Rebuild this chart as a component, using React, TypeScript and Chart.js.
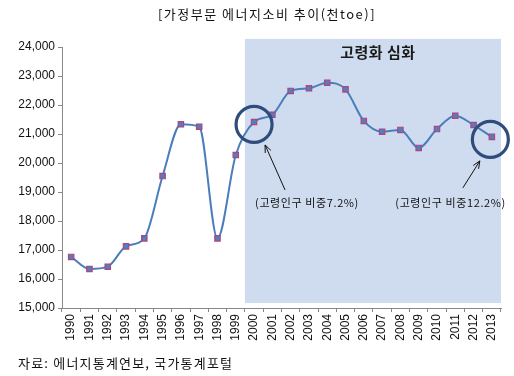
import React, { useEffect, useRef } from "react";
import { Chart, registerables } from "chart.js";

Chart.register(...registerables);

const years = ["1990","1991","1992","1993","1994","1995","1996","1997","1998","1999","2000","2001","2002","2003","2004","2005","2006","2007","2008","2009","2010","2011","2012","2013"];
const consumption = [16760,16345,16425,17125,17400,19550,21335,21250,17400,20275,21415,21665,22485,22575,22770,22540,21450,21080,21140,20520,21170,21630,21310,20900];
const yTicks = [15000,16000,17000,18000,19000,20000,21000,22000,23000,24000];
const titleText = "[가정부문 에너지소비 추이(천toe)]";
const sourceText = "자료: 에너지통계연보, 국가통계포털";
const shadeLabel = "고령화 심화";
const shadeStartYear = "2000";
const shadeTop = 24280;
const shadeBottom = 15170;
const notes = [
  { year: "2000", text: "(고령인구 비중7.2%)" },
  { year: "2013", text: "(고령인구 비중12.2%)" },
];

const FONT = "'Liberation Sans', 'Noto Sans CJK KR', sans-serif";
const KFONT = "'Noto Sans CJK KR', sans-serif";

const overlayPlugin = {
  id: "overlay",
  beforeDatasetsDraw(chart: any) {
    const { ctx, chartArea } = chart;
    const x = chart.scales.x;
    const y = chart.scales.y;
    const i = years.indexOf(shadeStartYear);
    const left = (x.getPixelForValue(i - 1) + x.getPixelForValue(i)) / 2;
    const right = chartArea.right;
    const top = y.getPixelForValue(shadeTop);
    const bottom = y.getPixelForValue(shadeBottom);
    ctx.save();
    ctx.fillStyle = "#cfdcef";
    ctx.fillRect(left, top, right - left, bottom - top);
    ctx.fillStyle = "#1a1a1a";
    ctx.font = "bold 15px " + KFONT;
    ctx.textAlign = "center";
    ctx.textBaseline = "middle";
    (ctx as any).letterSpacing = "0.5px";
    ctx.fillText(shadeLabel, (left + right) / 2 + 5, top + 13);
    ctx.restore();
  },
  afterDatasetsDraw(chart: any) {
    const { ctx } = chart;
    const meta = chart.getDatasetMeta(0);
    ctx.save();
    notes.forEach((n, k) => {
      const idx = years.indexOf(n.year);
      const pt = meta.data[idx];
      const cx = pt.x + (k === 0 ? 0 : -1.5);
      const cy = pt.y + 2.5;
      ctx.strokeStyle = "#2f4d7c";
      ctx.lineWidth = 3.2;
      ctx.beginPath();
      ctx.arc(cx, cy, 18, 0, Math.PI * 2);
      ctx.stroke();
      let tx, ty, sx, sy;
      if (k === 0) {
        tx = pt.x + 11; ty = pt.y + 23; sx = pt.x + 31; sy = pt.y + 68;
      } else {
        tx = pt.x - 12; ty = pt.y + 24; sx = pt.x - 29; sy = pt.y + 51;
      }
      ctx.strokeStyle = "#111";
      ctx.lineWidth = 1;
      ctx.beginPath();
      ctx.moveTo(sx, sy);
      ctx.lineTo(tx, ty);
      const ang = Math.atan2(ty - sy, tx - sx);
      const h = 8;
      ctx.moveTo(tx, ty);
      ctx.lineTo(tx - h * Math.cos(ang - 0.4), ty - h * Math.sin(ang - 0.4));
      ctx.moveTo(tx, ty);
      ctx.lineTo(tx - h * Math.cos(ang + 0.4), ty - h * Math.sin(ang + 0.4));
      ctx.stroke();
      ctx.fillStyle = "#111";
      ctx.font = "11px " + KFONT;
      (ctx as any).letterSpacing = "0.6px";
      ctx.textBaseline = "middle";
      if (k === 0) {
        ctx.textAlign = "left";
        ctx.fillText(n.text, pt.x + 1, pt.y + 81);
      } else {
        ctx.textAlign = "right";
        ctx.fillText(n.text, pt.x + 14, pt.y + 66);
      }
      (ctx as any).letterSpacing = "0px";
    });
    ctx.restore();
  },
  afterDraw(chart: any) {
    const { ctx } = chart;
    ctx.save();
    ctx.fillStyle = "#111";
    ctx.textBaseline = "middle";
    ctx.font = "13px " + KFONT;
    (ctx as any).letterSpacing = "1.5px";
    ctx.textAlign = "center";
    ctx.fillText(titleText, 267, 14);
    ctx.textAlign = "left";
    (ctx as any).letterSpacing = "1.2px";
    ctx.fillText(sourceText, 18, 363);
    ctx.restore();
  },
};

export default function App() {
  const ref = useRef<HTMLCanvasElement>(null);
  useEffect(() => {
    if (!ref.current) return;
    const chart = new Chart(ref.current, {
      type: "line",
      data: {
        labels: years,
        datasets: [
          {
            data: consumption,
            borderColor: "#4a7ebb",
            borderWidth: 2,
            pointStyle: "rect",
            pointRadius: 3.8,
            pointBackgroundColor: "#4f7fbf",
            pointBorderColor: "#b0457e",
            pointBorderWidth: 1.2,
            cubicInterpolationMode: "monotone",
          },
        ],
      },
      options: {
        animation: false,
        responsive: false,
        layout: { padding: { left: 0, right: 13, top: 47, bottom: 0 } },
        plugins: { legend: { display: false }, tooltip: { enabled: false } },
        scales: {
          x: {
            offset: true,
            grid: { offset: true, drawOnChartArea: false, drawTicks: true, tickLength: 4, color: "#888" },
            border: { color: "#888", width: 1 },
            ticks: {
              minRotation: 90,
              maxRotation: 90,
              autoSkip: false,
              color: "#111",
              font: { family: FONT, size: 12 },
              padding: 2,
            },
            afterFit(scale: any) { scale.height = 68; },
          },
          y: {
            min: 15000,
            max: 24000,
            afterBuildTicks(scale: any) { scale.ticks = yTicks.map((v) => ({ value: v })); },
            grid: { drawOnChartArea: false, drawTicks: true, tickLength: 4, color: "#888" },
            border: { color: "#888", width: 1 },
            ticks: {
              color: "#111",
              font: { family: FONT, size: 12 },
              padding: 3,
              callback: (v: any) => Number(v).toLocaleString("en-US"),
            },
            afterFit(scale: any) { scale.width = 62; },
          },
        },
      },
      plugins: [overlayPlugin],
    });
    return () => chart.destroy();
  }, []);
  return (
    <div style={{ position: "fixed", left: 0, top: 0, width: 514, height: 376, background: "#fff" }}>
      <canvas ref={ref} width={514} height={376} style={{ width: 514, height: 376, display: "block" }} />
    </div>
  );
}
